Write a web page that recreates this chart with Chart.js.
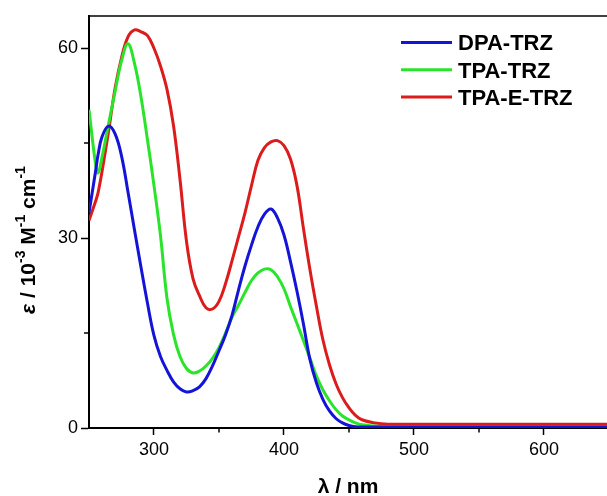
<!DOCTYPE html>
<html><head><meta charset="utf-8">
<script src="https://cdn.jsdelivr.net/npm/chart.js@4/dist/chart.umd.min.js"></script>
<style>html,body{margin:0;padding:0;background:#fff;overflow:hidden}canvas{display:block}</style>
</head><body>
<canvas id="c" width="607" height="496"></canvas>
<script>
const wavelengths = [250,255,257,260,265,270,275,280,285,290,295,300,305,310,315,320,325,330,335,340,345,350,355,360,365,370,375,380,385,390,395,400,405,410,415,420,425,430,435,440,445,450,455,460,470,480,500,550,600,650];
const dpaTrz = [34,40.5,43.2,46,47.7,46.5,43,37.3,31.3,25.4,19.7,14.6,11.3,9.1,7.3,6.2,5.7,5.9,6.5,7.8,9.8,12.2,14.7,17.8,21.8,25.6,28.9,31.8,33.8,34.6,33.2,30.5,26.3,21.6,16.4,10.8,7.1,4.5,2.7,1.5,0.8,0.4,0.2,0.15,0.15,0.15,0.15,0.15,0.15,0.15];
const tpaTrz = [50.3,41.8,40.3,42.8,48,53.1,58,60.7,57.6,52.3,45.5,38.3,30.4,20.5,14.8,11.3,9.4,8.7,9,9.8,11,12.7,15,17.5,19.4,21.4,23.3,24.5,25.1,25,23.9,22,19.2,16.5,13.8,11,8.2,6,4.3,2.9,1.9,1.3,0.8,0.5,0.3,0.2,0.2,0.2,0.2,0.2];
const tpaETrz = [32.8,35.8,37.2,40.5,46.8,53.6,58.5,61.8,62.9,62.6,62,60,57.2,53.5,47.8,39.3,29.5,23.6,20.9,19,18.8,20,22.8,26.4,30.2,34,38.3,42.3,44.3,45.2,45.4,44.6,42.5,38.3,31.5,25,19.2,13.9,10,7,4.8,3.2,2,1.3,0.8,0.6,0.6,0.6,0.6,0.6];
const seriesNames = ['DPA-TRZ','TPA-TRZ','TPA-E-TRZ'];
const xMajorTicks = [300,400,500,600];
const xMinorTicks = [350,450,550];
const yMajorTicks = [0,30,60];
const yMinorTicks = [15,45];

const fam = "'Liberation Sans', Arial, Helvetica, sans-serif";
const toPts = arr => arr.map((v, i) => ({x: wavelengths[i], y: v}));

const decor = {
  id: 'decor',
  afterDraw(chart) {
    const {ctx, chartArea: a, scales: {x, y}} = chart;
    ctx.save();
    ctx.strokeStyle = '#000';
    ctx.lineWidth = 1.5;
    ctx.beginPath(); ctx.moveTo(a.left - 1, a.top); ctx.lineTo(a.right, a.top); ctx.stroke();
    xMinorTicks.forEach(v => {
      const px = Math.round(x.getPixelForValue(v));
      ctx.beginPath(); ctx.moveTo(px, a.bottom); ctx.lineTo(px, a.bottom + 4.5); ctx.stroke();
    });
    yMinorTicks.forEach(v => {
      const py = Math.round(y.getPixelForValue(v));
      ctx.beginPath(); ctx.moveTo(a.left, py); ctx.lineTo(a.left - 5, py); ctx.stroke();
    });
    // legend
    chart.data.datasets.forEach((ds, i) => {
      const cy = 42.5 + i * 27.3;
      ctx.strokeStyle = ds.borderColor; ctx.lineWidth = 3;
      ctx.beginPath(); ctx.moveTo(401, cy); ctx.lineTo(452, cy); ctx.stroke();
      ctx.fillStyle = '#000'; ctx.font = 'bold 22px ' + fam;
      ctx.textAlign = 'left'; ctx.textBaseline = 'alphabetic';
      ctx.fillText(ds.label, 458, cy + 7.9);
    });
    // x title
    ctx.fillStyle = '#000';
    ctx.font = 'bold 21px ' + fam; ctx.textAlign = 'center'; ctx.textBaseline = 'alphabetic';
    ctx.fillText('λ / nm', (a.left + a.right) / 2, 493);
    // y title
    const segs = [
      {t: 'ε', f: 'italic bold 21px ' + fam, dy: 0},
      {t: ' / 10', f: 'bold 21px ' + fam, dy: 0},
      {t: '-3', f: 'bold 14px ' + fam, dy: -10},
      {t: ' M', f: 'bold 21px ' + fam, dy: 0},
      {t: '-1', f: 'bold 14px ' + fam, dy: -10},
      {t: ' cm', f: 'bold 21px ' + fam, dy: 0},
      {t: '-1', f: 'bold 14px ' + fam, dy: -10}
    ];
    let total = 0;
    segs.forEach(s => { ctx.font = s.f; s.w = ctx.measureText(s.t).width; total += s.w; });
    ctx.translate(35, 240);
    ctx.rotate(-Math.PI / 2);
    ctx.textAlign = 'left';
    let cx = -total / 2;
    segs.forEach(s => { ctx.font = s.f; ctx.fillText(s.t, cx, s.dy); cx += s.w; });
    ctx.restore();
  }
};

new Chart(document.getElementById('c'), {
  type: 'line',
  data: {
    datasets: [
      {label: seriesNames[0], data: toPts(dpaTrz), borderColor: '#1414d8'},
      {label: seriesNames[1], data: toPts(tpaTrz), borderColor: '#2ae42a'},
      {label: seriesNames[2], data: toPts(tpaETrz), borderColor: '#dc1c1c'}
    ].map(d => Object.assign(d, {borderWidth: 3, pointRadius: 0, fill: false, tension: 0.4}))
  },
  options: {
    responsive: false,
    devicePixelRatio: 1,
    animation: false,
    events: [],
    layout: {padding: {top: 16, left: 0, right: 0, bottom: 0}},
    plugins: {legend: {display: false}, tooltip: {enabled: false}},
    scales: {
      x: {
        type: 'linear', min: 250, max: 648.5,
        afterBuildTicks: s => { s.ticks = xMajorTicks.map(v => ({value: v})); },
        afterFit: s => { s.height = 68; },
        ticks: {color: '#000', font: {family: fam, size: 18}, padding: 4, maxRotation: 0, autoSkip: false},
        grid: {drawOnChartArea: false, drawTicks: true, tickLength: 7, tickColor: '#000', tickWidth: 1.5},
        border: {display: true, color: '#000', width: 2}
      },
      y: {
        type: 'linear', min: 0, max: 65.1,
        afterBuildTicks: s => { s.ticks = yMajorTicks.map(v => ({value: v})); },
        afterFit: s => { s.width = 89; },
        ticks: {color: '#000', font: {family: fam, size: 18}, padding: 3},
        grid: {drawOnChartArea: false, drawTicks: true, tickLength: 8, tickColor: '#000', tickWidth: 1.5},
        border: {display: true, color: '#000', width: 2}
      }
    }
  },
  plugins: [decor]
});
</script>
</body></html>
